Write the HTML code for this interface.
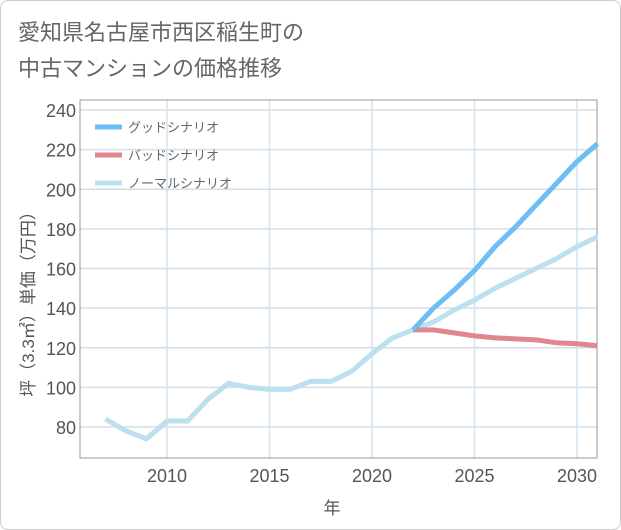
<!DOCTYPE html>
<html><head><meta charset="utf-8"><style>
body{margin:0;background:#fff;font-family:"Liberation Sans","Noto Sans CJK JP",sans-serif;}
#card{position:absolute;left:0;top:0;width:619px;height:528px;border:1px solid #ccc;border-radius:8px;background:#fff;}
</style></head><body>
<div id="card">
<svg id="chart" width="621" height="530" style="position:absolute;left:-1px;top:-1px"></svg>
</div>
<script>
const years=[2007,2008,2009,2010,2011,2012,2013,2014,2015,2016,2017,2018,2019,2020,2021,2022,2023,2024,2025,2026,2027,2028,2029,2030,2031];
const normal=[84,78,74,83,83,94,102,100,99,99,103,103,108,117,125,129,133,139,144,150,155,160,165,171,176];
const goodYears=[2022,2023,2024,2025,2026,2027,2028,2029,2030,2031];
const good=[129,140,149,159,171,181,192,203,214,223];
const bad=[129,129,127.5,126,125,124.5,124,122.5,122,121];
const yTicks=[80,100,120,140,160,180,200,220,240];
const xTicks=[2010,2015,2020,2025,2030];
const NS="http://www.w3.org/2000/svg";
const svg=document.getElementById('chart');
const L=80,R=597,T=100,B=458;
const X=v=>167+(v-2010)*20.5;
const Y=v=>427-(v-80)*(317/160);
function el(t,a,p){const e=document.createElementNS(NS,t);for(const k in a)e.setAttribute(k,a[k]);(p||svg).appendChild(e);return e;}
function txt(x,y,s,a){const e=el('text',Object.assign({x:x,y:y},a));e.textContent=s;return e;}
let t=txt(18,40,'愛知県名古屋市西区稲生町の',{'font-size':22,fill:'#666'});

t=txt(18,76,'中古マンションの価格推移',{'font-size':22,fill:'#666'});

yTicks.forEach(v=>{const l=el('line',{x1:L,x2:R,y1:Y(v),y2:Y(v),stroke:'#d5dde6','stroke-width':1.5});

const s=txt(L-4,Y(v)+7,v,{'font-size':18,fill:'#555','text-anchor':'end'});
});
xTicks.forEach(v=>{const l=el('line',{x1:X(v),x2:X(v),y1:T,y2:B,stroke:'#cfe3f0','stroke-width':1.5});

const s=txt(X(v),B+24,v,{'font-size':18,fill:'#555','text-anchor':'middle'});
});
let f=el('rect',{x:L,y:T,width:R-L,height:B-T,fill:'none',stroke:'#999','stroke-width':1});

function line(xs,ys,c,name){const p=el('polyline',{points:xs.map((x,i)=>X(x)+','+Y(ys[i])).join(' '),fill:'none',stroke:c,'stroke-width':5,'stroke-linejoin':'round'});
}
line(years,normal,'#bde0ee','normal-scenario-line');
line(goodYears,bad,'#e0868f','bad-scenario-line');
line(goodYears,good,'#6cbef3','good-scenario-line');
const leg=[['グッドシナリオ','#6cbef3'],['バッドシナリオ','#e0868f'],['ノーマルシナリオ','#bde0ee']];
leg.forEach((g,i)=>{const y=127+i*28;const l=el('line',{x1:95,x2:122,y1:y,y2:y,stroke:g[1],'stroke-width':5});

const s=txt(128,y+5,g[0],{'font-size':13,fill:'#666'});
});
t=txt(332,514,'年',{'font-size':17,fill:'#555','text-anchor':'middle'});

t=txt(0,0,'坪（3.3㎡）単価（万円）',{'font-size':17,fill:'#555','text-anchor':'middle',transform:'translate(34,300) rotate(-90)'});

</script>
</body></html>
